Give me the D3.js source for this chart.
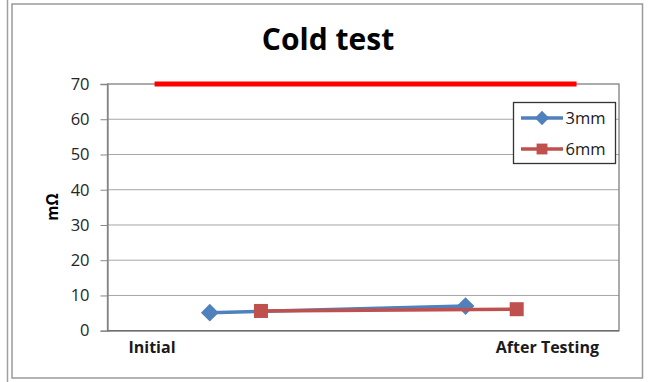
<!DOCTYPE html>
<html>
<head>
<meta charset="utf-8">
<script src="https://cdn.jsdelivr.net/npm/d3@7"></script>
<style>
  html, body { margin: 0; padding: 0; background: #fff; }
  svg { display: block; }
  text { font-family: "Open Sans", Lato, sans-serif; }
</style>
</head>
<body>
<svg id="chart" width="648" height="382"></svg>
<script>
// ---- data ----
const title = "Cold test";
const yLabel = "mΩ";
const categories = ["Initial", "After Testing"];
const categoryX = [0.87, 8.6];
const yTicks = [0, 10, 20, 30, 40, 50, 60, 70];
const seriesNames = ["3mm", "6mm"];
const x3mm = [2, 7];
const values3mm = [5.1, 7.0];
const x6mm = [3, 8];
const values6mm = [5.6, 6.1];
const limitX = [0.92, 9.17];
const limitValue = 70;

// ---- layout ----
const svg = d3.select("#chart");
const plot = { left: 107.5, right: 619, top: 84, bottom: 330.7 };

const x = d3.scaleLinear().domain([0, 10]).range([plot.left, plot.right]);
const y = d3.scaleLinear().domain([0, 70]).range([plot.bottom, plot.top]);

// outer frames
svg.append("line").attr("x1", 7.5).attr("x2", 7.5).attr("y1", 0).attr("y2", 382)
  .attr("stroke", "#a0a0a0").attr("stroke-width", 1.5);
svg.append("rect").attr("x", 12).attr("y", 4).attr("width", 630.5).attr("height", 374)
  .attr("fill", "#fff").attr("stroke", "#9a9a9a").attr("stroke-width", 1.5);

// title
svg.append("text").attr("x", 328).attr("y", 50)
  .attr("text-anchor", "middle").attr("font-weight", "bold").attr("font-size", 30)
  .attr("fill", "#000").text(title);

// gridlines
svg.append("g").selectAll("line").data(yTicks.filter(d => d > 0 && d < 70)).join("line")
  .attr("x1", plot.left).attr("x2", plot.right)
  .attr("y1", d => y(d)).attr("y2", d => y(d))
  .attr("stroke", "#a6a6a6").attr("stroke-width", 1);

// plot border
svg.append("rect").attr("x", plot.left).attr("y", plot.top)
  .attr("width", plot.right - plot.left).attr("height", plot.bottom - plot.top)
  .attr("fill", "none").attr("stroke", "#7f7f7f").attr("stroke-width", 1.3);

// y axis
const yAxis = d3.axisLeft(y).tickValues(yTicks).tickSize(7).tickPadding(11);
const gy = svg.append("g").attr("transform", `translate(${plot.left},0)`).call(yAxis);
gy.select(".domain").attr("stroke", "#868686").attr("stroke-width", 1.3);
gy.selectAll(".tick line").attr("stroke", "#868686");
gy.selectAll(".tick text").attr("font-size", 16.5).attr("fill", "#262626")
  .attr("font-family", "'Open Sans', sans-serif");

// x axis baseline
svg.append("line").attr("x1", plot.left).attr("x2", plot.right)
  .attr("y1", plot.bottom).attr("y2", plot.bottom)
  .attr("stroke", "#6e6e6e").attr("stroke-width", 1.6);

// x labels
svg.append("g").selectAll("text").data(categories).join("text")
  .attr("x", (d, i) => x(categoryX[i])).attr("y", 353)
  .attr("text-anchor", "middle").attr("font-weight", "bold").attr("font-size", 16)
  .attr("fill", "#1a1a1a").text(d => d);

// y label
svg.append("text").attr("transform", "translate(58,207) rotate(-90)")
  .attr("text-anchor", "middle").attr("font-weight", "bold").attr("font-size", 15.5)
  .attr("fill", "#000").text(yLabel);

// limit line
svg.append("line").attr("x1", x(limitX[0])).attr("x2", x(limitX[1]))
  .attr("y1", y(limitValue)).attr("y2", y(limitValue))
  .attr("stroke", "#ff0000").attr("stroke-width", 5);

const blue = "#4f81bd", red = "#c0504d";
const line = d3.line().x(d => x(d[0])).y(d => y(d[1]));
const pts3 = x3mm.map((v, i) => [v, values3mm[i]]);
const pts6 = x6mm.map((v, i) => [v, values6mm[i]]);

const diamond = d3.symbol().type(d3.symbolDiamond2).size(200);
const square = d3.symbol().type(d3.symbolSquare2).size(250);

svg.append("path").datum(pts3).attr("d", line).attr("fill", "none")
  .attr("stroke", blue).attr("stroke-width", 3.5);
svg.append("g").selectAll("path").data(pts3).join("path")
  .attr("d", diamond).attr("transform", d => `translate(${x(d[0])},${y(d[1])})`)
  .attr("fill", blue);

svg.append("path").datum(pts6).attr("d", line).attr("fill", "none")
  .attr("stroke", red).attr("stroke-width", 3.5);
svg.append("g").selectAll("path").data(pts6).join("path")
  .attr("d", square).attr("transform", d => `translate(${x(d[0])},${y(d[1])})`)
  .attr("fill", red);

// legend
const lg = svg.append("g");
lg.append("rect").attr("x", 513.5).attr("y", 102.5).attr("width", 102).attr("height", 61)
  .attr("fill", "#fff").attr("stroke", "#333").attr("stroke-width", 1.3);
const legendItems = [
  { name: seriesNames[0], color: blue, sym: d3.symbol().type(d3.symbolDiamond2).size(130) },
  { name: seriesNames[1], color: red, sym: d3.symbol().type(d3.symbolSquare2).size(150) }
];
legendItems.forEach((it, i) => {
  const cy = 118 + i * 31;
  lg.append("line").attr("x1", 521).attr("x2", 563).attr("y1", cy).attr("y2", cy)
    .attr("stroke", it.color).attr("stroke-width", 3.5);
  lg.append("path").attr("d", it.sym).attr("transform", `translate(542,${cy})`).attr("fill", it.color);
  lg.append("text").attr("x", 565.5).attr("y", cy + 6).attr("font-size", 16.5)
    .attr("fill", "#1a1a1a").text(it.name);
});
</script>
</body>
</html>
